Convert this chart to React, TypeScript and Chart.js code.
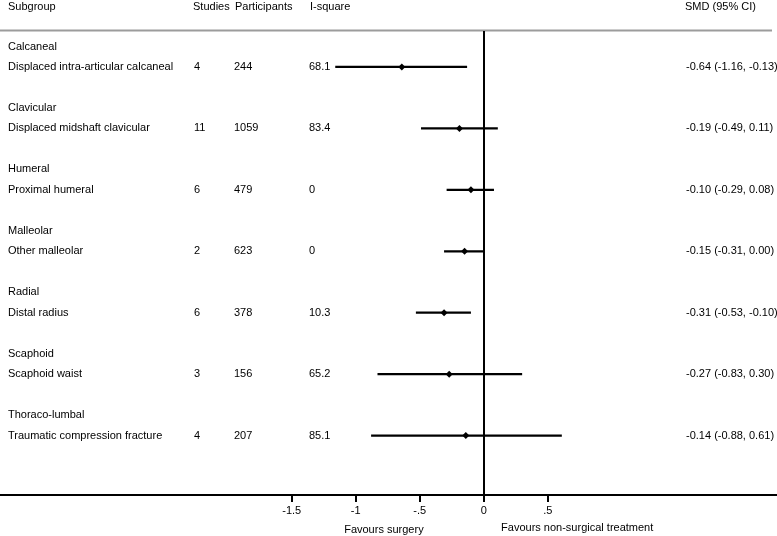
import React, { useEffect, useRef } from "react";
import { Chart, registerables } from "chart.js";
Chart.register(...registerables);

const groups = ["Calcaneal", "Clavicular", "Humeral", "Malleolar", "Radial", "Scaphoid", "Thoraco-lumbal"];
const subgroups = [
  "Displaced intra-articular calcaneal",
  "Displaced midshaft clavicular",
  "Proximal humeral",
  "Other malleolar",
  "Distal radius",
  "Scaphoid waist",
  "Traumatic compression fracture",
];
const studies = ["4", "11", "6", "2", "6", "3", "4"];
const participants = ["244", "1059", "479", "623", "378", "156", "207"];
const iSquare = ["68.1", "83.4", "0", "0", "10.3", "65.2", "85.1"];
const smd = [-0.64, -0.19, -0.1, -0.15, -0.31, -0.27, -0.14];
const lower = [-1.16, -0.49, -0.29, -0.31, -0.53, -0.83, -0.88];
const upper = [-0.13, 0.11, 0.08, 0.0, -0.1, 0.3, 0.61];
const smdLabels = [
  "-0.64 (-1.16, -0.13)",
  "-0.19 (-0.49, 0.11)",
  "-0.10 (-0.29, 0.08)",
  "-0.15 (-0.31, 0.00)",
  "-0.31 (-0.53, -0.10)",
  "-0.27 (-0.83, 0.30)",
  "-0.14 (-0.88, 0.61)",
];
const headers = ["Subgroup", "Studies", "Participants", "I-square", "SMD (95% CI)"];
const xTicks = [-1.5, -1, -0.5, 0, 0.5];
const xTickLabels = ["-1.5", "-1", "-.5", "0", ".5"];
const favourLabels = ["Favours surgery", "Favours non-surgical treatment"];
const favourAnchors = [-0.78, 0.73];

const FONT = "'Liberation Sans', Arial, Helvetica, sans-serif";
const headerRow = (i: number) => 3 * i + 1;
const dataRow = (i: number) => 3 * i + 2;

export default function App() {
  const ref = useRef<HTMLCanvasElement | null>(null);
  useEffect(() => {
    if (!ref.current) return;
    Chart.defaults.font.family = FONT;
    const textPlugin = {
      id: "forestText",
      beforeDatasetsDraw(chart: any) {
        const ctx = chart.ctx;
        const xs = chart.scales.x;
        const area = chart.chartArea;
        ctx.save();
        // top separator
        ctx.strokeStyle = "#9c9c9c";
        ctx.lineWidth = 2;
        ctx.beginPath();
        ctx.moveTo(0, 30.5);
        ctx.lineTo(772, 30.5);
        ctx.stroke();
        // zero line
        const x0 = Math.round(xs.getPixelForValue(0));
        ctx.strokeStyle = "#000";
        ctx.lineWidth = 2;
        ctx.beginPath();
        ctx.moveTo(x0, 31);
        ctx.lineTo(x0, area.bottom);
        ctx.stroke();
        ctx.restore();
      },
      afterDraw(chart: any) {
        const ctx = chart.ctx;
        const ys = chart.scales.y;
        const xs = chart.scales.x;
        ctx.save();
        ctx.fillStyle = "#000";
        ctx.font = `11px ${FONT}`;
        ctx.textAlign = "left";
        ctx.textBaseline = "alphabetic";
        const hx = [8, 193, 235, 310, 685];
        headers.forEach((h, i) => ctx.fillText(h, hx[i], 10));
        ctx.textBaseline = "middle";
        groups.forEach((g, i) => {
          const yh = ys.getPixelForValue(headerRow(i));
          const yd = ys.getPixelForValue(dataRow(i));
          ctx.fillText(g, 8, yh);
          ctx.fillText(subgroups[i], 8, yd);
          ctx.fillText(studies[i], 194, yd);
          ctx.fillText(participants[i], 234, yd);
          ctx.fillText(iSquare[i], 309, yd);
          ctx.fillText(smdLabels[i], 686, yd);
        });
        ctx.textAlign = "center";
        ctx.fillText(favourLabels[0], xs.getPixelForValue(favourAnchors[0]), 530);
        ctx.fillText(favourLabels[1], xs.getPixelForValue(favourAnchors[1]), 528);
        ctx.restore();
      },
    };

    const ciSets = groups.map((_, i) => ({
      type: "line" as const,
      data: [
        { x: lower[i], y: dataRow(i) },
        { x: upper[i], y: dataRow(i) },
      ],
      borderColor: "#000",
      borderWidth: 2.2,
      pointRadius: 0,
      showLine: true,
      fill: false,
    }));

    const chart = new Chart(ref.current, {
      type: "scatter",
      data: {
        datasets: [
          ...ciSets,
          {
            type: "scatter" as const,
            data: smd.map((v, i) => ({ x: v, y: dataRow(i) })),
            pointStyle: "rectRot",
            pointRadius: 3.5,
            backgroundColor: "#000",
            borderColor: "#000",
            borderWidth: 0,
          },
        ] as any,
      },
      options: {
        responsive: false,
        animation: false,
        events: [],
        layout: { autoPadding: false, padding: { top: 26, left: 0, right: 0, bottom: 0 } },
        plugins: { legend: { display: false }, tooltip: { enabled: false } },
        scales: {
          x: {
            type: "linear",
            min: -3.779,
            max: 2.291,
            afterBuildTicks: (s: any) => {
              s.ticks = xTicks.map((v) => ({ value: v }));
            },
            afterFit: (s: any) => {
              s.height = 41;
            },
            ticks: {
              callback: (v: any) => xTickLabels[xTicks.indexOf(Number(v))],
              font: { family: FONT, size: 11 },
              color: "#000",
              padding: 2,
              maxRotation: 0,
              autoSkip: false,
            },
            grid: {
              drawOnChartArea: false,
              drawTicks: true,
              tickLength: 7,
              color: "#000",
              lineWidth: 2,
            },
            border: { color: "#000", width: 2 },
          },
          y: {
            type: "linear",
            reverse: true,
            min: 0,
            max: 22.9,
            display: false,
          },
        },
      },
      plugins: [textPlugin],
    });
    return () => chart.destroy();
  }, []);
  return (
    <div style={{ position: "absolute", left: 0, top: 0, width: 777, height: 536, background: "#fff" }}>
      <canvas ref={ref} width={777} height={536} style={{ display: "block" }} />
    </div>
  );
}
